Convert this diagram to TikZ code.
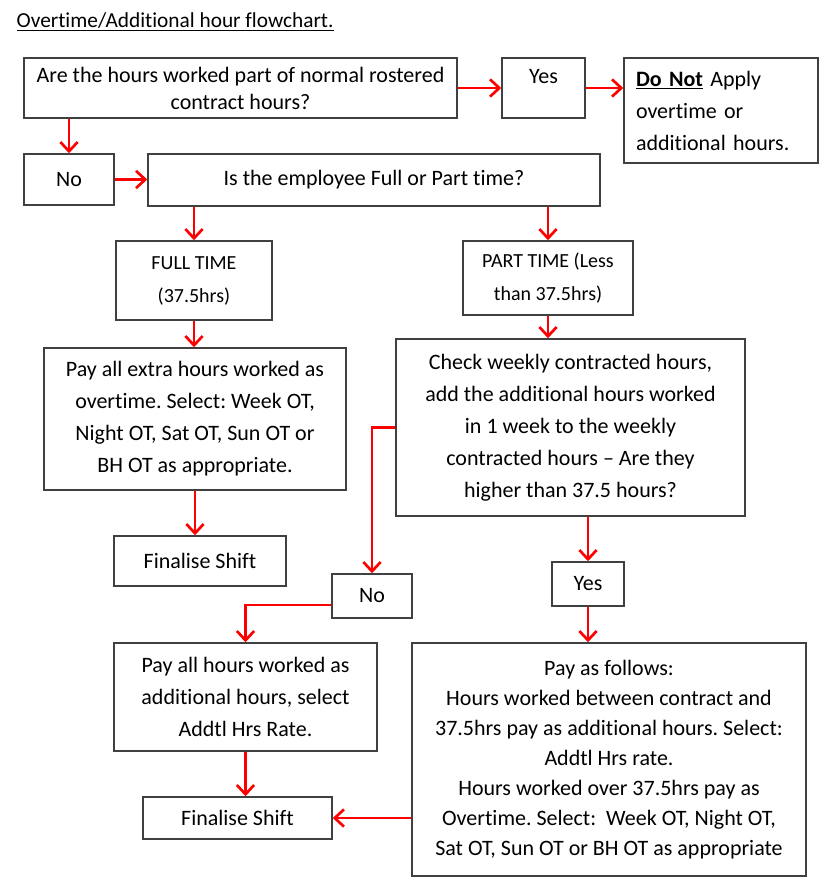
\documentclass[tikz,border=0pt]{standalone}
\usepackage{fontspec}
\setmainfont{Carlito}[Ligatures=NoCommon]
\usetikzlibrary{arrows.meta}
\frenchspacing

\begin{document}
\begin{tikzpicture}[x=0.75pt, y=-0.75pt,
		box/.style={draw=black!75, line width=1.1pt, inner sep=0pt, align=center, font=\fontsize{16.5}{24}\selectfont},
		smallbox/.style={box, font=\fontsize{15}{24.75}\selectfont},
		arr/.style={red, line width=2pt, -{Straight Barb[length=7pt,width=13pt]}}]
		\useasboundingbox (0,0) rectangle (830,896);

		\node[anchor=west, font=\fontsize{16}{18}\selectfont] (title) at (12,22) {\underline{Overtime/Additional hour flowchart.}};

		% first question
		\node[box, minimum width=324.75pt, minimum height=45pt, font=\fontsize{16.5}{20.25}\selectfont] (q1) at (240.5,88) {Are the hours worked part of normal rostered\\contract hours?};
		\node[box, minimum width=62.25pt, minimum height=45pt, font=\fontsize{16.5}{18}\selectfont] (yes1) at (543.5,88) {Yes\\~};
		\node[box, minimum width=145.5pt, minimum height=78.75pt, text width=127.5pt, align=left] (donot) at (721,110.5) {\underline{\textbf{Do Not}} Apply\\overtime or\\additional hours.};
		\node[box, minimum width=67.5pt, minimum height=38.25pt] (no1) at (69,179.5) {No};
		\node[box, minimum width=339pt, minimum height=39pt] (q2) at (374,180) {Is the employee Full or Part time?};

		\draw[arr] (q1.east) -- (yes1.west);
		\draw[arr] (yes1.east) -- (donot.west |- yes1.east);
		\draw[arr] (q1.south -| no1) -- (no1.north);
		\draw[arr] (no1.east) -- (q2.west |- no1.east);

		% full time side
		\node[smallbox, minimum width=117pt, minimum height=59.25pt] (ft) at (194,280.5) {FULL TIME\\(37.5hrs)};
		\node[box, minimum width=226.5pt, minimum height=106.5pt] (pay1) at (195,419) {Pay all extra hours worked as\\overtime. Select: Week OT,\\Night OT, Sat OT, Sun OT or\\BH OT as appropriate.};
		\node[box, minimum width=129pt, minimum height=37.5pt] (fin1) at (200,561) {Finalise Shift};

		\draw[arr] (q2.south -| ft) -- (ft.north);
		\draw[arr] (ft.south) -- (ft.south |- pay1.north);
		\draw[arr] (pay1.south) -- (pay1.south |- fin1.north);

		% part time side
		\node[smallbox, minimum width=127.5pt, minimum height=55.5pt] (pt) at (548,278) {PART TIME (Less\\than 37.5hrs)};
		\node[box, minimum width=261.75pt, minimum height=132.75pt] (check) at (570.5,427.5) {Check weekly contracted hours,\\add the additional hours worked\\in 1 week to the weekly\\contracted hours -- Are they\\higher than 37.5 hours?};
		\node[box, minimum width=60pt, minimum height=33pt] (no2) at (372,596) {No};
		\node[box, minimum width=54pt, minimum height=33pt] (yes2) at (588,584) {Yes};

		\draw[arr] (q2.south -| pt) -- (pt.north);
		\draw[arr] (pt.south) -- (pt.south |- check.north);
		\draw[arr] (check.west) -| (no2.north);
		\draw[arr] (check.south -| yes2) -- (yes2.north);

		% pay boxes
		\node[box, minimum width=197.25pt, minimum height=81pt] (pay2) at (245.5,697) {Pay all hours worked as\\additional hours, select\\Addtl Hrs Rate.};
		\node[box, minimum width=295.5pt, minimum height=174.75pt, font=\fontsize{16.5}{22.5}\selectfont] (pay3) at (609,759.5) {Pay as follows:\\Hours worked between contract and\\37.5hrs pay as additional hours. Select:\\Addtl Hrs rate.\\Hours worked over 37.5hrs pay as\\Overtime. Select:\ \ Week OT, Night OT,\\Sat OT, Sun OT or BH OT as appropriate};
		\node[box, minimum width=141.75pt, minimum height=31.5pt] (fin2) at (237.5,818) {Finalise Shift};

		\draw[arr] ([yshift=-6.75pt]no2.west) -| (pay2.north);
		\draw[arr] (yes2.south) -- (yes2.south |- pay3.north);
		\draw[arr] (pay2.south) -- (pay2.south |- fin2.north);
		\draw[arr] (pay3.west |- fin2.east) -- (fin2.east);
	\end{tikzpicture}
\end{document}
